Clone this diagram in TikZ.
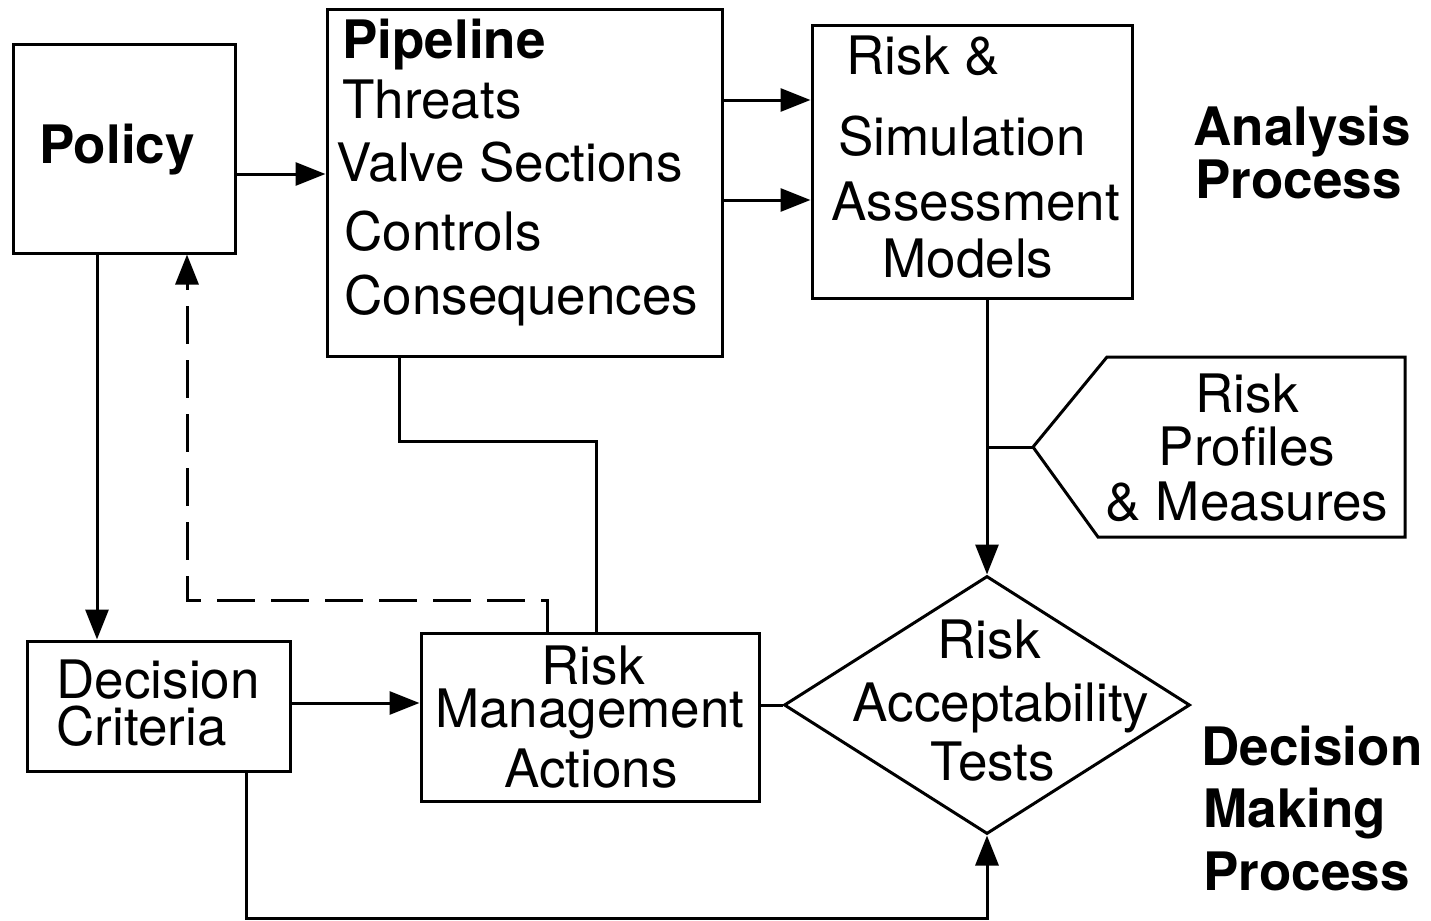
\documentclass[tikz,border=0pt]{standalone}
\usepackage{fontspec}
\setmainfont{TeX Gyre Heros}
\usetikzlibrary{arrows.meta,fit,shapes.geometric}
\begin{document}
\begin{tikzpicture}[x=0.5pt,y=-0.5pt, line width=1.5pt,
  box/.style={draw, inner sep=0pt},
  txt/.style={font=\fontsize{26.5}{31}\selectfont, inner sep=0pt, text height=0.72em, text depth=0pt},
  btxt/.style={font=\fontsize{26.5}{31}\selectfont\bfseries, inner sep=0pt, text height=0.72em, text depth=0pt},
  arr/.style={-{Triangle[length=15pt,width=11.5pt]}},
  longdash/.style={dash pattern=on 19pt off 8pt}]
\useasboundingbox (0,0) rectangle (1431,921);

% boxes
\node[box, fit={(13,44) (235,253)}] (policy) {};
\node[box, fit={(327,9) (722,356)}] (pipe) {};
\node[box, fit={(812,25) (1132,298)}] (models) {};
\node[box, fit={(27,641) (290,771)}] (dc) {};
\node[box, fit={(421,633) (759,801)}] (rma) {};
\node[draw, diamond, minimum width=203pt, minimum height=129pt, inner sep=0pt] (test) at (987,705) {};

% risk profiles shape
\coordinate (ptip) at (1033,447);
\draw (ptip) -- (1107,357) -- (1405,357) -- (1405,537) -- (1098,537) -- cycle;

% texts
\node[btxt, anchor=base] (tpolicy) at (117,163) {Policy};

\node[btxt, anchor=base west] (tp1) at (341,58) {Pipeline};
\node[txt, anchor=base west] (tp2) at (341,118) {Threats};
\node[txt, anchor=base west] (tp3) at (335,181) {Valve Sections};
\node[txt, anchor=base west] (tp4) at (343,250) {Controls};
\node[txt, anchor=base west] (tp5) at (343,314) {Consequences};

\node[txt, anchor=base west] (tm1) at (845,74) {Risk \&};
\node[txt, anchor=base west] (tm2) at (837,155) {Simulation};
\node[txt, anchor=base west] (tm3) at (830,220) {Assessment};
\node[txt, anchor=base west] (tm4) at (881,277) {Models};

\node[btxt, anchor=base west] (ta1) at (1192,145) {Analysis};
\node[btxt, anchor=base west] (ta2) at (1194,198) {Process};

\node[txt, anchor=base] (tr1) at (1247,412) {Risk};
\node[txt, anchor=base] (tr2) at (1247,465) {Profiles};
\node[txt, anchor=base] (tr3) at (1247,520) {\& Measures};

\node[txt, anchor=base west] (td1) at (55,698) {Decision};
\node[txt, anchor=base west] (td2) at (55,745) {Criteria};

\node[txt, anchor=base] (tx1) at (593,684) {Risk};
\node[txt, anchor=base] (tx2) at (590,727) {Management};
\node[txt, anchor=base] (tx3) at (591,787) {Actions};

\node[txt, anchor=base] (tt1) at (989,658) {Risk};
\node[txt, anchor=base] (tt2) at (1001,721) {Acceptability};
\node[txt, anchor=base] (tt3) at (993,780) {Tests};

\node[btxt, anchor=base west] (tdm1) at (1200,765) {Decision};
\node[btxt, anchor=base west] (tdm2) at (1202,827) {Making};
\node[btxt, anchor=base west] (tdm3) at (1202,890) {Process};

% connectors
\draw[arr] (policy.east |- 0,174) -- (pipe.west |- 0,174);
\draw[arr] (pipe.east |- 0,100) -- (models.west |- 0,100);
\draw[arr] (pipe.east |- 0,200) -- (models.west |- 0,200);
\draw[arr] (policy.south -| 97,0) -- (dc.north -| 97,0);
\draw[arr] (dc.east |- 0,703) -- (rma.west |- 0,703);
\draw (rma.east |- test.west) -- (test.west);
\coordinate (j) at (987,447);
\draw[arr] (models.south -| test.north) -- (test.north);
\draw (j) -- (ptip);
\draw (pipe.south -| 399,0) |- (596,441) -- (rma.north -| 596,0);
\draw[arr, longdash] (rma.north -| 547,0) |- (187,600) -- (policy.south -| 187,0);
\draw[arr] (dc.south -| 246,0) |- (987,918) -- (test.south);
\end{tikzpicture}
\end{document}
